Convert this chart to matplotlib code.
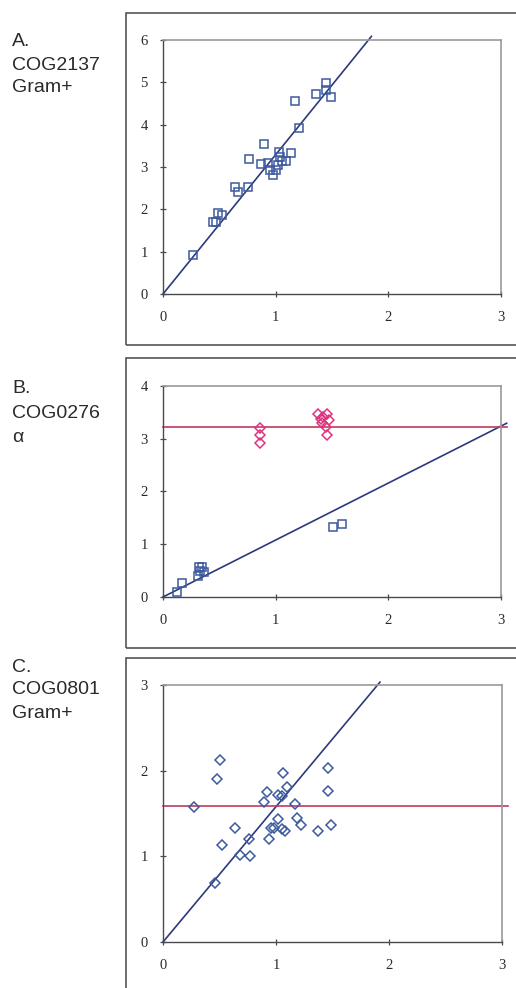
import matplotlib
matplotlib.use("Agg")
import matplotlib.pyplot as plt
from matplotlib.patches import Rectangle
import numpy as np

# Panel A: COG2137 Gram+
a_x = [0.27, 0.44, 0.47, 0.49, 0.52, 0.64, 0.67, 0.75, 0.76, 0.87, 0.90, 0.93,
       0.95, 0.98, 1.00, 1.02, 1.03, 1.04, 1.06, 1.09, 1.14, 1.17, 1.21, 1.36,
       1.45, 1.45, 1.49]
a_y = [0.91, 1.69, 1.69, 1.91, 1.87, 2.52, 2.40, 2.52, 3.18, 3.07, 3.54, 3.09,
       2.94, 2.82, 2.93, 3.04, 3.36, 3.24, 3.13, 3.15, 3.32, 4.56, 3.93, 4.72,
       4.98, 4.82, 4.65]
a_slope = 3.29
a_line_end = 1.85

# Panel B: COG0276 alpha
b_sq_x = [0.12, 0.17, 0.31, 0.32, 0.35, 0.33, 0.36, 1.51, 1.59]
b_sq_y = [0.10, 0.27, 0.39, 0.57, 0.56, 0.49, 0.47, 1.33, 1.39]
b_di_x = [0.86, 0.86, 0.86, 1.38, 1.40, 1.41, 1.42, 1.46, 1.47, 1.45, 1.46]
b_di_y = [3.21, 3.08, 2.91, 3.46, 3.37, 3.29, 3.42, 3.46, 3.35, 3.22, 3.07]
b_slope = 1.08
b_line_end = 3.05
b_hline = 3.23

# Panel C: COG0801 Gram+
c_x = [0.27, 0.46, 0.48, 0.50, 0.52, 0.64, 0.68, 0.76, 0.77, 0.89, 0.92, 0.94,
       0.96, 0.98, 1.02, 1.02, 1.05, 1.05, 1.06, 1.08, 1.10, 1.17, 1.19, 1.22,
       1.37, 1.46, 1.46, 1.49]
c_y = [1.58, 0.69, 1.90, 2.13, 1.13, 1.33, 1.02, 1.20, 1.00, 1.63, 1.75, 1.20,
       1.33, 1.33, 1.44, 1.72, 1.70, 1.32, 1.97, 1.29, 1.81, 1.61, 1.45, 1.37,
       1.29, 2.03, 1.76, 1.37]
c_slope = 1.58
c_line_end = 1.92
c_hline = 1.59

W, H = 516, 988
BLUE = "#3d5a9e"
NAVY = "#2c3a7a"
PINK = "#e0337f"
RED = "#c23a5c"

fig = plt.figure(figsize=(W / 100, H / 100), dpi=100)
fig.patch.set_facecolor("white")


def px_axes(left, right, top, bottom):
    return fig.add_axes([left / W, 1 - bottom / H, (right - left) / W, (bottom - top) / H])


def style(ax, ymax):
    ax.set_xlim(0, 3)
    ax.set_ylim(0, ymax)
    ax.set_xticks([0, 1, 2, 3])
    ax.set_yticks(range(0, ymax + 1))
    for s in ["left", "bottom"]:
        ax.spines[s].set_color("#4a4a4a")
        ax.spines[s].set_linewidth(1.0)
    for s in ["top", "right"]:
        ax.spines[s].set_color("#9a9a9a")
        ax.spines[s].set_linewidth(1.2)
    ax.tick_params(direction="inout", length=4, width=0.9, color="#4a4a4a",
                   labelsize=10.5, labelcolor="#2a2a2a")
    ax.tick_params(axis="x", pad=10.5)
    ax.tick_params(axis="y", pad=9)
    for lab in ax.get_xticklabels() + ax.get_yticklabels():
        lab.set_family("Liberation Serif")


def panel_box(top, bottom):
    fig.patches.append(Rectangle((126 / W, 1 - bottom / H), 420 / W, (bottom - top) / H,
                                 transform=fig.transFigure, fill=False,
                                 edgecolor="#555555", linewidth=1.2))


def label(lines, ys):
    for t, y in zip(lines, ys):
        fig.text(12 / W, 1 - y / H, t, fontsize=14, family="Liberation Sans",
                 color="#2a2a2a", va="center", ha="left")


# Panel A
panel_box(13, 345)
ax = px_axes(163, 501, 40, 294)
style(ax, 6)
xs = np.array([0, a_line_end])
ax.plot(xs, a_slope * xs, color=NAVY, lw=1.2, clip_on=False, zorder=2)
ax.plot(a_x, a_y, "s", ms=5.5, mfc="none", mec=BLUE, mew=1.1, zorder=3)
label(["A.", "COG2137", "Gram+"], [42, 66, 88])

# Panel B
panel_box(358, 648)
ax = px_axes(163, 501, 386, 597)
style(ax, 4)
xs = np.array([0, b_line_end])
ax.plot(xs, b_slope * xs, color=NAVY, lw=1.2, clip_on=False, zorder=2)
ax.plot([0, 3.05], [b_hline, b_hline], color=RED, lw=1.2, clip_on=False, zorder=2)
ax.plot(b_sq_x, b_sq_y, "s", ms=5.5, mfc="none", mec=BLUE, mew=1.1, zorder=3)
ax.plot(b_di_x, b_di_y, "D", ms=5.2, mfc="none", mec=PINK, mew=1.1, zorder=3)
label(["B.", "COG0276", "α"], [388, 413, 437])

# Panel C
panel_box(658, 1010)
ax = px_axes(163, 502, 685, 942)
style(ax, 3)
xs = np.array([0, c_line_end])
ax.plot(xs, c_slope * xs, color=NAVY, lw=1.2, clip_on=False, zorder=2)
ax.plot([0, 3.05], [c_hline, c_hline], color=RED, lw=1.2, clip_on=False, zorder=2)
ax.plot(c_x, c_y, "D", ms=5.2, mfc="none", mec=BLUE, mew=1.1, zorder=3)
label(["C.", "COG0801", "Gram+"], [667, 690, 713])

fig.savefig("out.png", dpi=100, facecolor="white")
